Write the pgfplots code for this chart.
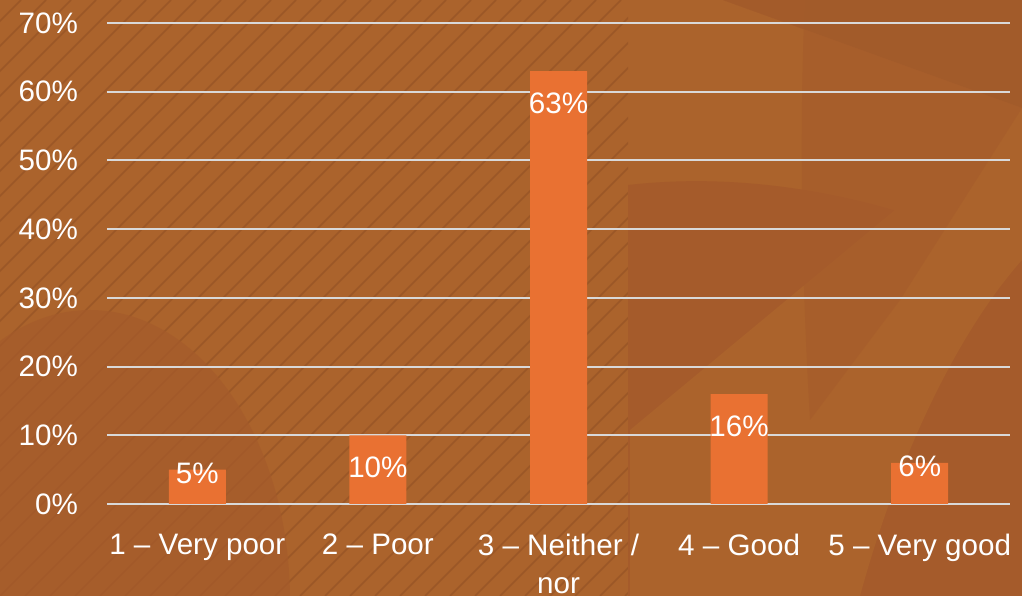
\documentclass[border=0pt]{standalone}
\usepackage{pgfplots}
\pgfplotsset{compat=1.18}
\usepackage{fontspec}
\setmainfont{Liberation Sans}
\definecolor{bgbase}{HTML}{AB632C}
\definecolor{bgdark}{HTML}{A55B2B}
\definecolor{bgdarker}{HTML}{9D5729}
\definecolor{hatchc}{HTML}{8E4E24}
\definecolor{barc}{HTML}{E97132}
\definecolor{gridc}{HTML}{D9D9D9}
\begin{document}
\begin{tikzpicture}
\begin{scope}[x=0.5pt,y=-0.5pt,shift={(-53.5pt,252pt)}]
\useasboundingbox (0,0) rectangle (1022,596);
\clip (0,0) rectangle (1022,596);
\fill[bgbase] (0,0) rectangle (1022,596);
% hatched panel on the left
\begin{scope}
\clip (0,0) rectangle (628,596);
\foreach \k in {-26,...,26} {
  \draw[hatchc, line width=0.8pt, opacity=0.55] (\k*25,596) -- (\k*25+596,0);
}
\end{scope}
% right-side decorative shapes
\fill[bgdark] (628,185) .. controls (760,170) and (900,200) .. (1022,260) -- (1022,596) -- (628,596) -- cycle;
\fill[bgbase] (630,596) -- (630,430) -- (967,150) -- (1022,100) -- (1022,260) .. controls (960,330) and (900,450) .. (860,596) -- cycle;
\fill[bgdarker,opacity=0.6] (723,0) -- (1022,0) -- (1022,108) -- cycle;
\fill[bgdark,opacity=0.6] (805,0) .. controls (800,100) and (800,250) .. (810,420) -- (900,300) -- (1022,108) -- (723,0) -- cycle;
% bottom-left circle
\fill[bgdark,opacity=0.7] (90,600) ellipse [x radius=200, y radius=290];
\end{scope}
\begin{axis}[
  at={(0,0)}, anchor=south west,
  scale only axis, width=451.5pt, height=240.5pt,
  xmin=-0.5, xmax=4.5, ymin=0, ymax=70,
  axis line style={draw=none}, major tick length=0pt,
  ymajorgrids, grid style={color=gridc, line width=1pt},
  ytick={0,10,...,70},
  yticklabel={\pgfmathprintnumber{\tick}\%},
  xtick={0,1,2,3,4},
  xticklabels={1 – Very poor, 2 – Poor, {3 – Neither /\\nor}, 4 – Good, 5 – Very good},
  /pgf/number format/assume math mode=true,
  tick label style={text=white, font=\fontsize{14.8}{19}\selectfont},
  y tick label style={xshift=-11pt},
  x tick label style={align=center, anchor=north, yshift=-11.5pt},
  ybar, bar width=28.5pt,
  visualization depends on={rawy \as \rawy},
  nodes near coords={\pgfmathprintnumber{\pgfplotspointmeta}\%},
  every node near coord/.append style={anchor=center, text=white, font=\fontsize{14.8}{16}\selectfont, yshift={(\rawy<8)?-2:-16}},
]
\addplot[fill=barc, draw=none] coordinates {(0,5) (1,10) (2,63) (3,16) (4,6)};
\end{axis}
\end{tikzpicture}
\end{document}
